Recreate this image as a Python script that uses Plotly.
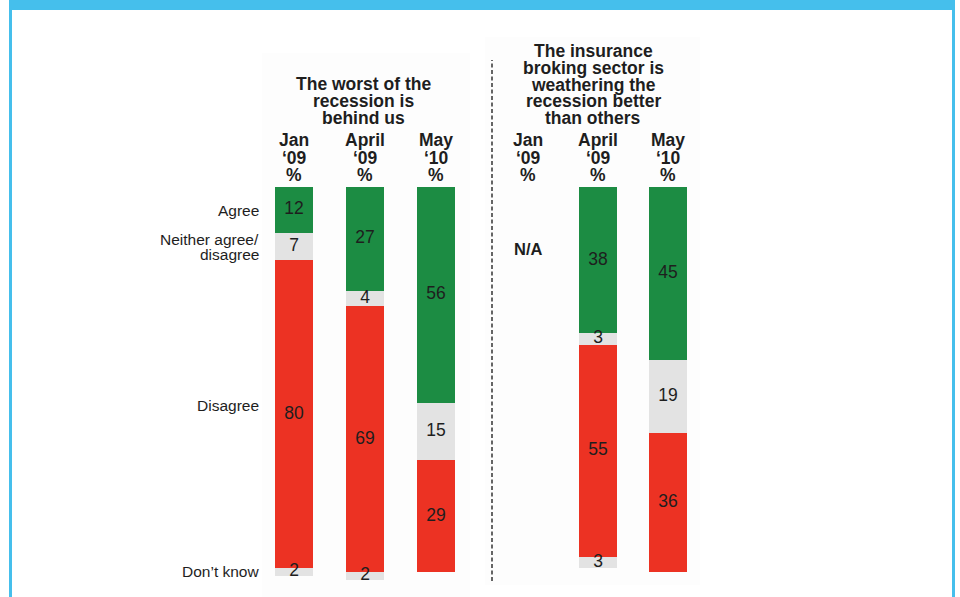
import plotly.graph_objects as go

# ---- survey data -------------------------------------------------------
periods = ["Jan ‘09", "April ‘09", "May ‘10"]
period_month = ["Jan", "April", "May"]
period_year = ["‘09", "‘09", "‘10"]

series_names = ["Agree", "Neither agree/disagree", "Disagree", "Don’t know"]

# "The worst of the recession is behind us"
recession_agree = [12, 27, 56]
recession_neither = [7, 4, 15]
recession_disagree = [80, 69, 29]
recession_dont_know = [2, 2, None]

# "The insurance broking sector is weathering the recession better than others"
sector_agree = [None, 38, 45]
sector_neither = [None, 3, 19]
sector_disagree = [None, 55, 36]
sector_dont_know = [None, 3, None]

recession_title = ["The worst of the", "recession is", "behind us"]
sector_title = ["The insurance", "broking sector is", "weathering the",
                "recession better", "than others"]
row_labels = ["Agree", "Neither agree/", "disagree", "Disagree", "Don’t know"]

# ---- styling -------------------------------------------------------------
W, H = 960, 597
GREEN = "#1C8C43"
GREY = "#E3E3E3"
RED = "#EC3223"
FRAME = "#45BFEC"
TEXT = "#1E1E1E"
FONT = "Liberation Sans, Arial, Helvetica, sans-serif"
colors = [GREEN, GREY, RED, GREY]

PX_PER_UNIT = 3.85
PLOT_TOP = 187  # pixel row where the stacks start


def fy(px):
    return 1 - px / H


def fx(px):
    return px / W


fig = go.Figure()

panels = [
    ("x", [recession_agree, recession_neither, recession_disagree, recession_dont_know]),
    ("x2", [sector_agree, sector_neither, sector_disagree, sector_dont_know]),
]

for xref, stack in panels:
    # stacked segments
    for name, vals, col in zip(series_names, stack, colors):
        fig.add_trace(go.Bar(
            x=periods, y=vals, name=name, marker=dict(color=col, line=dict(width=0)),
            width=0.53, xaxis=xref, yaxis="y", showlegend=False, hoverinfo="skip",
        ))
    # value labels at the middle of each segment
    lx, ly, lt = [], [], []
    for i, p in enumerate(periods):
        cum = 0
        for vals in stack:
            v = vals[i]
            if v is None:
                continue
            lx.append(p)
            ly.append(cum + v / 2)
            lt.append(str(v))
            cum += v
    fig.add_trace(go.Scatter(
        x=lx, y=ly, text=lt, mode="text", xaxis=xref, yaxis="y",
        textposition="middle center",
        textfont=dict(family=FONT, size=17.5, color=TEXT),
        showlegend=False, hoverinfo="skip",
    ))

annotations = []


def note(text, x, y_px, xref="paper", size=17.5, bold=True, xanchor="center"):
    annotations.append(dict(
        text=f"<b>{text}</b>" if bold else text,
        x=x, y=fy(y_px), xref=xref, yref="paper",
        xanchor=xanchor, yanchor="middle", showarrow=False,
        font=dict(family=FONT, size=size, color=TEXT),
    ))


# panel titles
for k, line in enumerate(recession_title):
    note(line, fx(363), 84 + 17 * k)
for k, line in enumerate(sector_title):
    note(line, fx(593), 51 + 16.8 * k)

# column headers
for xref in ("x", "x2"):
    for p, m, yr in zip(periods, period_month, period_year):
        note(m, p, 140, xref=xref)
        note(yr, p, 157.5, xref=xref)
        note("%", p, 175, xref=xref)

note("N/A", periods[0], 249, xref="x2", size=16.5)

# row labels on the left
for text, y_px in zip(row_labels, [210.7, 240, 255, 405, 571.7]):
    note(text, fx(261), y_px, bold=False, size=15.5, xanchor="right")

shapes = [
    # very faint panel backgrounds
    dict(type="rect", xref="paper", yref="paper", x0=fx(262), x1=fx(470),
         y0=fy(597), y1=fy(53), fillcolor="#FDFDFD", line=dict(width=0), layer="below"),
    dict(type="rect", xref="paper", yref="paper", x0=fx(485), x1=fx(700),
         y0=fy(585), y1=fy(37), fillcolor="#FDFDFD", line=dict(width=0), layer="below"),
    # dashed divider between the two questions
    dict(type="line", xref="paper", yref="paper", x0=fx(492), x1=fx(492),
         y0=fy(581), y1=fy(60), line=dict(color="#333333", width=1.5, dash="4px,2.5px")),
    # frame: top band and side rules
    dict(type="rect", xref="paper", yref="paper", x0=fx(9), x1=fx(955),
         y0=fy(10), y1=1, fillcolor=FRAME, line=dict(width=0)),
    dict(type="rect", xref="paper", yref="paper", x0=fx(9), x1=fx(12),
         y0=0, y1=1, fillcolor=FRAME, line=dict(width=0)),
    dict(type="rect", xref="paper", yref="paper", x0=fx(952), x1=fx(955),
         y0=0, y1=1, fillcolor=FRAME, line=dict(width=0)),
]

fig.update_layout(
    width=W, height=H, autosize=False,
    margin=dict(l=0, r=0, t=0, b=0, pad=0),
    paper_bgcolor="white", plot_bgcolor="rgba(0,0,0,0)",
    barmode="stack", showlegend=False, hovermode=False,
    xaxis=dict(domain=[fx(258.5), fx(471.5)], type="category", categoryorder="array",
               categoryarray=periods, range=[-0.5, 2.5], visible=False, fixedrange=True),
    xaxis2=dict(domain=[fx(493), fx(703)], type="category", categoryorder="array",
                categoryarray=periods, range=[-0.5, 2.5], visible=False, anchor="y",
                fixedrange=True),
    yaxis=dict(domain=[0, fy(PLOT_TOP)], range=[(H - PLOT_TOP) / PX_PER_UNIT, 0],
               visible=False, fixedrange=True),
    annotations=annotations,
    shapes=shapes,
)

fig.write_html("out.html")
